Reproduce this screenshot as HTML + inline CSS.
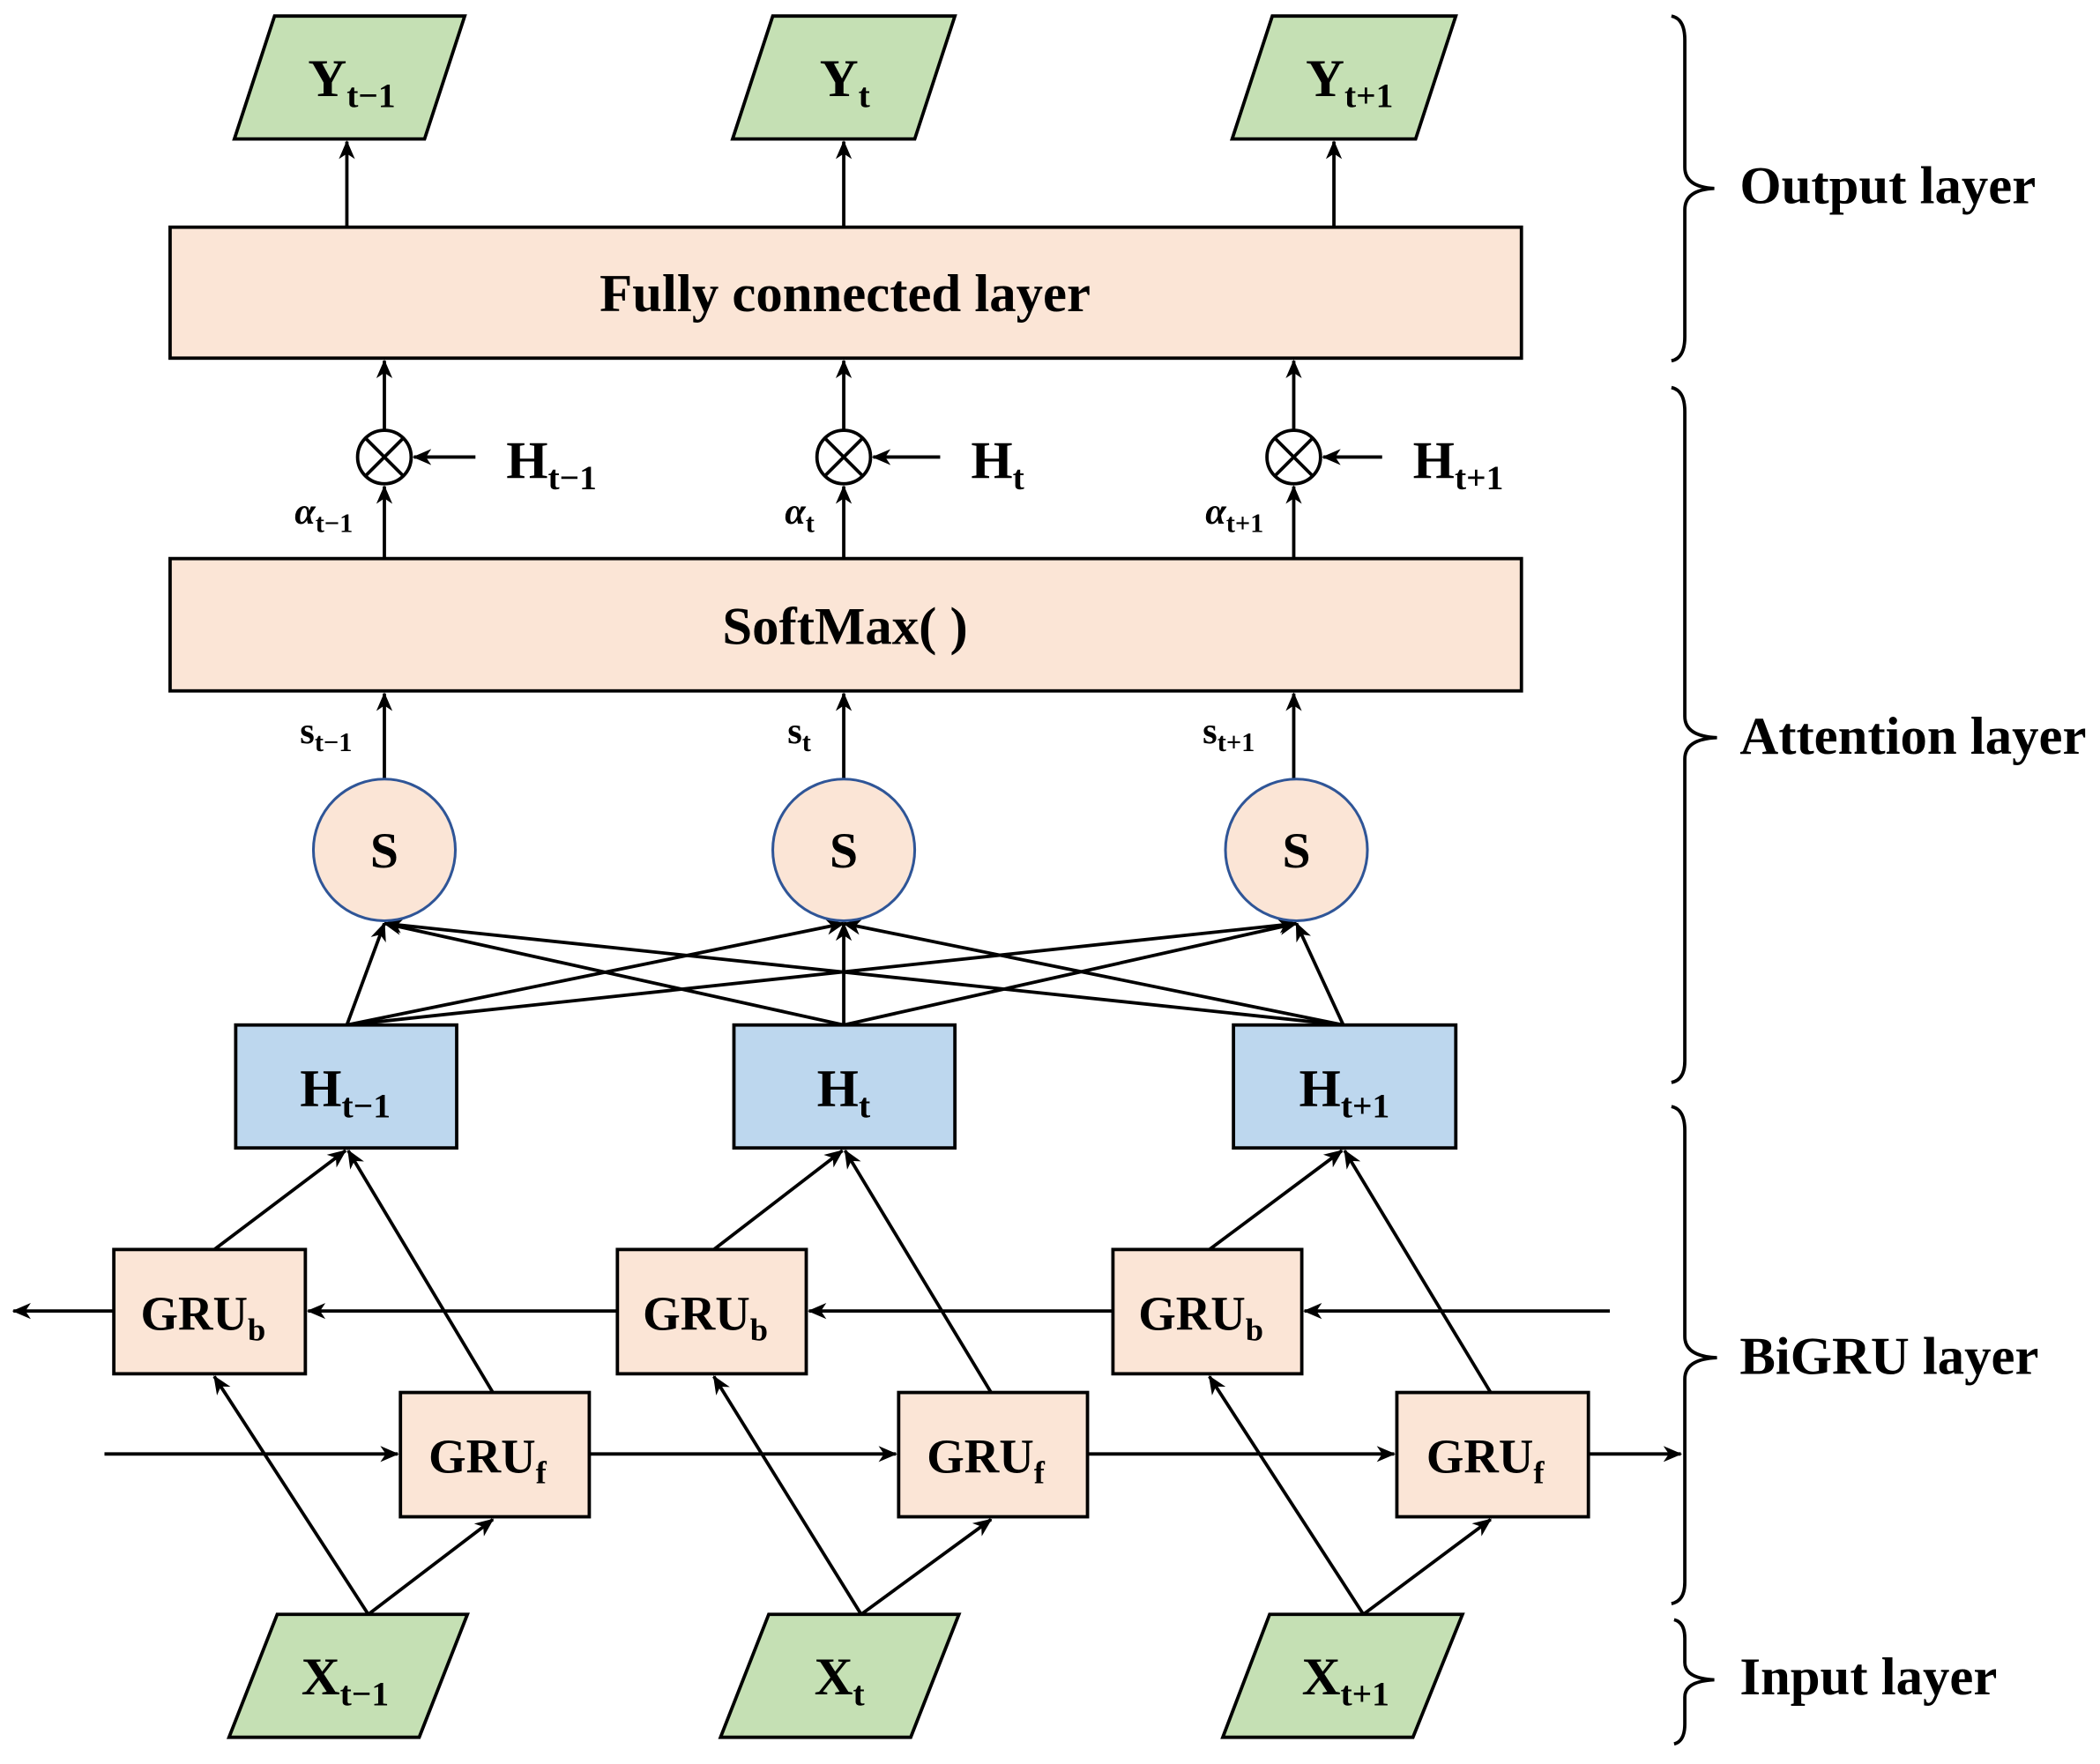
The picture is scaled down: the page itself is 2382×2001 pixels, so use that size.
<!DOCTYPE html>
<html><head><meta charset="utf-8"><style>
html,body{margin:0;padding:0;background:#fff;}
svg{display:block;}
text{font-family:"Liberation Serif",serif;font-weight:bold;fill:#000;}
</style></head><body>
<svg width="2382" height="2001" viewBox="0 0 1568 1320" preserveAspectRatio="none" xmlns="http://www.w3.org/2000/svg">
<defs>
<marker id="a" markerWidth="14" markerHeight="14" refX="13" refY="7" orient="auto" markerUnits="userSpaceOnUse" viewBox="0 0 14 14">
<path d="M0,1 L14,7 L0,13 L4,7 Z" fill="#000"/>
</marker>
</defs>
<g stroke="#000" stroke-width="2.5" fill="none">
<polygon points="205,12 347,12 317,104 175,104" fill="#c5e0b4"/>
<polygon points="577,12 713,12 683,104 547,104" fill="#c5e0b4"/>
<polygon points="950,12 1087,12 1057,104 920,104" fill="#c5e0b4"/>
<line x1="259" y1="170" x2="259" y2="106" marker-end="url(#a)"/>
<line x1="630" y1="170" x2="630" y2="106" marker-end="url(#a)"/>
<line x1="996" y1="170" x2="996" y2="106" marker-end="url(#a)"/>
<rect x="127" y="170" width="1009" height="98" fill="#fbe5d6"/>
<rect x="127" y="418" width="1009" height="99" fill="#fbe5d6"/>
<line x1="287" y1="418" x2="287" y2="364" marker-end="url(#a)"/>
<line x1="287" y1="322" x2="287" y2="270" marker-end="url(#a)"/>
<line x1="630" y1="418" x2="630" y2="364" marker-end="url(#a)"/>
<line x1="630" y1="322" x2="630" y2="270" marker-end="url(#a)"/>
<line x1="966" y1="418" x2="966" y2="364" marker-end="url(#a)"/>
<line x1="966" y1="322" x2="966" y2="270" marker-end="url(#a)"/>
<circle cx="287" cy="342" r="20" fill="#fff"/>
<circle cx="630" cy="342" r="20" fill="#fff"/>
<circle cx="966" cy="342" r="20" fill="#fff"/>
<path d="M273,328 L301,356 M301,328 L273,356 M616,328 L644,356 M644,328 L616,356 M952,328 L980,356 M980,328 L952,356"/>
<line x1="355" y1="342" x2="309" y2="342" marker-end="url(#a)"/>
<line x1="702" y1="342" x2="652" y2="342" marker-end="url(#a)"/>
<line x1="1032" y1="342" x2="988" y2="342" marker-end="url(#a)"/>
<line x1="287" y1="583" x2="287" y2="519" marker-end="url(#a)"/>
<line x1="630" y1="583" x2="630" y2="519" marker-end="url(#a)"/>
<line x1="966" y1="583" x2="966" y2="519" marker-end="url(#a)"/>
<line x1="259" y1="767" x2="287" y2="691" marker-end="url(#a)"/>
<line x1="259" y1="767" x2="630" y2="691" marker-end="url(#a)"/>
<line x1="259" y1="767" x2="968" y2="691" marker-end="url(#a)"/>
<line x1="630" y1="767" x2="287" y2="691" marker-end="url(#a)"/>
<line x1="630" y1="767" x2="630" y2="691" marker-end="url(#a)"/>
<line x1="630" y1="767" x2="968" y2="691" marker-end="url(#a)"/>
<line x1="1003" y1="767" x2="287" y2="691" marker-end="url(#a)"/>
<line x1="1003" y1="767" x2="630" y2="691" marker-end="url(#a)"/>
<line x1="1003" y1="767" x2="968" y2="691" marker-end="url(#a)"/>
<circle cx="287" cy="636" r="53" fill="#fbe5d6" stroke="#2f5597" stroke-width="2"/>
<circle cx="630" cy="636" r="53" fill="#fbe5d6" stroke="#2f5597" stroke-width="2"/>
<circle cx="968" cy="636" r="53" fill="#fbe5d6" stroke="#2f5597" stroke-width="2"/>
<rect x="176" y="767" width="165" height="92" fill="#bdd7ee"/>
<rect x="548" y="767" width="165" height="92" fill="#bdd7ee"/>
<rect x="921" y="767" width="166" height="92" fill="#bdd7ee"/>
<line x1="160" y1="935" x2="258" y2="861" marker-end="url(#a)"/>
<line x1="368" y1="1042" x2="260" y2="861" marker-end="url(#a)"/>
<line x1="533" y1="935" x2="629" y2="861" marker-end="url(#a)"/>
<line x1="740" y1="1042" x2="631" y2="861" marker-end="url(#a)"/>
<line x1="903" y1="935" x2="1002" y2="861" marker-end="url(#a)"/>
<line x1="1113" y1="1042" x2="1004" y2="861" marker-end="url(#a)"/>
<line x1="1202" y1="981" x2="974" y2="981" marker-end="url(#a)"/>
<line x1="831" y1="981" x2="604" y2="981" marker-end="url(#a)"/>
<line x1="461" y1="981" x2="230" y2="981" marker-end="url(#a)"/>
<line x1="85" y1="981" x2="10" y2="981" marker-end="url(#a)"/>
<line x1="78" y1="1088" x2="297" y2="1088" marker-end="url(#a)"/>
<line x1="440" y1="1088" x2="669" y2="1088" marker-end="url(#a)"/>
<line x1="812" y1="1088" x2="1041" y2="1088" marker-end="url(#a)"/>
<line x1="1186" y1="1088" x2="1255" y2="1088" marker-end="url(#a)"/>
<line x1="275" y1="1208" x2="160" y2="1030" marker-end="url(#a)"/>
<line x1="275" y1="1208" x2="368" y2="1137" marker-end="url(#a)"/>
<line x1="643" y1="1208" x2="533" y2="1030" marker-end="url(#a)"/>
<line x1="643" y1="1208" x2="740" y2="1137" marker-end="url(#a)"/>
<line x1="1018" y1="1208" x2="903" y2="1030" marker-end="url(#a)"/>
<line x1="1018" y1="1208" x2="1113" y2="1137" marker-end="url(#a)"/>
<rect x="85" y="935" width="143" height="93" fill="#fbe5d6"/>
<rect x="461" y="935" width="141" height="93" fill="#fbe5d6"/>
<rect x="831" y="935" width="141" height="93" fill="#fbe5d6"/>
<rect x="299" y="1042" width="141" height="93" fill="#fbe5d6"/>
<rect x="671" y="1042" width="141" height="93" fill="#fbe5d6"/>
<rect x="1043" y="1042" width="143" height="93" fill="#fbe5d6"/>
<polygon points="207,1208 349,1208 313,1300 171,1300" fill="#c5e0b4"/>
<polygon points="574,1208 716,1208 680,1300 538,1300" fill="#c5e0b4"/>
<polygon points="948,1208 1092,1208 1055,1300 913,1300" fill="#c5e0b4"/>
<path d="M1248,12 Q1258,14 1258,30 L1258,125 Q1258,140 1280,141 Q1258,142 1258,157 L1258,252 Q1258,268 1248,270"/>
<path d="M1248,290 Q1258,292 1258,308 L1258,536 Q1258,551 1282,552 Q1258,553 1258,568 L1258,794 Q1258,808 1248,810"/>
<path d="M1248,828 Q1258,830 1258,846 L1258,1000 Q1258,1015 1282,1016 Q1258,1017 1258,1032 L1258,1184 Q1258,1198 1248,1200"/>
<path d="M1250,1212 Q1258,1214 1258,1226 L1258,1244 Q1258,1256 1280,1257 Q1258,1258 1258,1270 L1258,1290 Q1258,1303 1250,1305"/>
</g>
<g font-size="40">
<text x="230" y="72">Y<tspan font-size="26" dy="8">t−1</tspan></text>
<text x="612" y="72">Y<tspan font-size="26" dy="8">t</tspan></text>
<text x="975" y="72">Y<tspan font-size="26" dy="8">t+1</tspan></text>
<text x="631" y="233" font-size="40" text-anchor="middle">Fully connected layer</text>
<text x="631" y="482" font-size="40" text-anchor="middle">SoftMax( )</text>
<text x="378" y="358">H<tspan font-size="26" dy="8">t−1</tspan></text>
<text x="725" y="358">H<tspan font-size="26" dy="8">t</tspan></text>
<text x="1055" y="358">H<tspan font-size="26" dy="8">t+1</tspan></text>
<text x="220" y="392" font-size="28" font-style="italic">α<tspan font-size="20" dy="6" font-style="normal">t−1</tspan></text>
<text x="586" y="392" font-size="28" font-style="italic">α<tspan font-size="20" dy="6" font-style="normal">t</tspan></text>
<text x="900" y="392" font-size="28" font-style="italic">α<tspan font-size="20" dy="6" font-style="normal">t+1</tspan></text>
<text x="224" y="556" font-size="28">s<tspan font-size="20" dy="6">t−1</tspan></text>
<text x="588" y="556" font-size="28">s<tspan font-size="20" dy="6">t</tspan></text>
<text x="898" y="556" font-size="28">s<tspan font-size="20" dy="6">t+1</tspan></text>
<text x="287" y="649" font-size="38" text-anchor="middle">S</text>
<text x="630" y="649" font-size="38" text-anchor="middle">S</text>
<text x="968" y="649" font-size="38" text-anchor="middle">S</text>
<text x="224" y="828">H<tspan font-size="26" dy="8">t−1</tspan></text>
<text x="610" y="828">H<tspan font-size="26" dy="8">t</tspan></text>
<text x="970" y="828">H<tspan font-size="26" dy="8">t+1</tspan></text>
<text x="105" y="995" font-size="36">GRU<tspan font-size="24" dy="8">b</tspan></text>
<text x="480" y="995" font-size="36">GRU<tspan font-size="24" dy="8">b</tspan></text>
<text x="850" y="995" font-size="36">GRU<tspan font-size="24" dy="8">b</tspan></text>
<text x="320" y="1102" font-size="36">GRU<tspan font-size="24" dy="8">f</tspan></text>
<text x="692" y="1102" font-size="36">GRU<tspan font-size="24" dy="8">f</tspan></text>
<text x="1065" y="1102" font-size="36">GRU<tspan font-size="24" dy="8">f</tspan></text>
<text x="225" y="1268">X<tspan font-size="26" dy="8">t−1</tspan></text>
<text x="608" y="1268">X<tspan font-size="26" dy="8">t</tspan></text>
<text x="972" y="1268">X<tspan font-size="26" dy="8">t+1</tspan></text>
<text x="1299" y="152" font-size="40">Output layer</text>
<text x="1299" y="564" font-size="40">Attention layer</text>
<text x="1299" y="1028" font-size="40">BiGRU layer</text>
<text x="1299" y="1268" font-size="40">Input layer</text>
</g>
</svg>
</body></html>
